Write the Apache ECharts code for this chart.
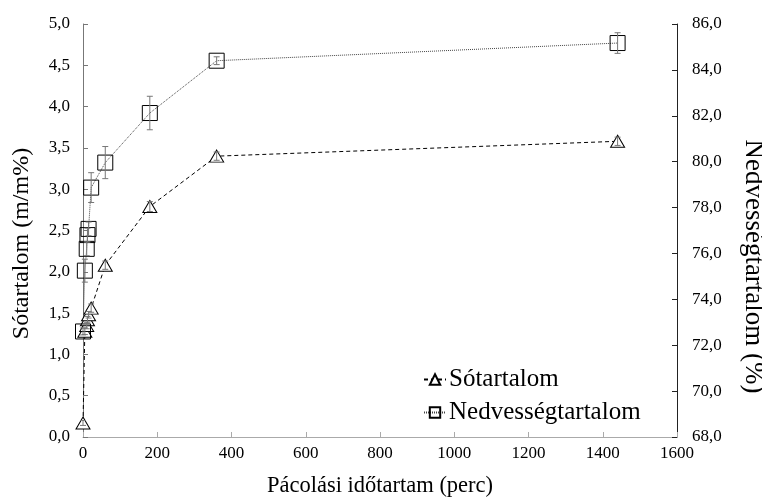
<!DOCTYPE html>
<html>
<head>
<meta charset="utf-8">
<script src="https://cdn.jsdelivr.net/npm/echarts@6/dist/echarts.min.js"></script>
<style>
  html, body { margin: 0; padding: 0; background: #fff; }
  #main { width: 762px; height: 498px; }
</style>
</head>
<body>
<div id="main"></div>
<script>
"use strict";

// pacolasi idotartam (perc)
var times = [0, 5, 10, 12, 15, 22, 60, 180, 360, 1440];
// Sotartalom (m/m%) - bal tengely
var salt = [0.17, 1.28, 1.35, 1.42, 1.48, 1.56, 2.08, 2.79, 3.40, 3.58];
var saltErr = [0.03, 0.04, 0.04, 0.04, 0.04, 0.05, 0.05, 0.06, 0.05, 0.05];
// Nedvessegtartalom (%) - jobb tengely
var moist = [72.6, 75.25, 76.2, 76.8, 77.07, 78.87, 79.96, 82.12, 84.4, 85.17];
var moistErr = [0.15, 0.5, 0.3, 0.3, 0.3, 0.65, 0.7, 0.73, 0.17, 0.45];

var xTicks = [0, 1600, 200];
var leftTicks = [0, 5, 0.5];
var rightTicks = [68, 86, 2];

var FONT = "Liberation Serif";

function pairs(xs, ys) {
    return xs.map(function (x, i) { return [x, ys[i]]; });
}
function errData(xs, ys, es) {
    return xs.map(function (x, i) { return [x, ys[i] - es[i], ys[i] + es[i]]; });
}
function errRender(params, api) {
    var lo = api.coord([api.value(0), api.value(1)]);
    var hi = api.coord([api.value(0), api.value(2)]);
    var cap = 3;
    return {
        type: 'group',
        children: [
            { type: 'line', shape: { x1: lo[0], y1: lo[1], x2: hi[0], y2: hi[1] }, style: { stroke: '#777', lineWidth: 1 } },
            { type: 'line', shape: { x1: lo[0] - cap, y1: lo[1], x2: lo[0] + cap, y2: lo[1] }, style: { stroke: '#777', lineWidth: 1 } },
            { type: 'line', shape: { x1: hi[0] - cap, y1: hi[1], x2: hi[0] + cap, y2: hi[1] }, style: { stroke: '#777', lineWidth: 1 } }
        ]
    };
}
function comma(v) { return v.toFixed(1).replace('.', ','); }

var myChart = echarts.init(document.getElementById('main'));

var option = {
    animation: false,
    textStyle: { fontFamily: FONT },
    grid: { left: 83, right: 85, top: 24, bottom: 61, outerBoundsMode: 'none' },
    legend: {
        orient: 'vertical',
        left: 418,
        top: 362,
        itemGap: 8,
        itemWidth: 22,
        itemHeight: 13,
        textStyle: { fontFamily: FONT, fontSize: 25, color: '#000', padding: [0, 0, 0, -2] },
        data: ['Sótartalom', 'Nedvességtartalom']
    },
    xAxis: {
        type: 'value',
        min: xTicks[0], max: xTicks[1], interval: xTicks[2],
        name: 'Pácolási időtartam (perc)',
        nameLocation: 'middle',
        nameGap: 38,
        nameTextStyle: { fontFamily: FONT, fontSize: 22.5, color: '#000' },
        axisLine: { lineStyle: { color: '#aaa' } },
        axisTick: { inside: true, length: 5, lineStyle: { color: '#aaa' } },
        axisLabel: {
            fontFamily: FONT, fontSize: 17, color: '#000', margin: 8,
            formatter: function (v) { return String(v); }
        },
        splitLine: { show: false }
    },
    yAxis: [{
        type: 'value',
        min: leftTicks[0], max: leftTicks[1], interval: leftTicks[2],
        name: 'Sótartalom (m/m%)',
        nameLocation: 'middle',
        nameGap: 49,
        nameTextStyle: { fontFamily: FONT, fontSize: 24, color: '#000', padding: [0, 26, 0, 0] },
        axisLine: { show: true, lineStyle: { color: '#777' } },
        axisTick: { show: true, inside: true, length: 5, lineStyle: { color: '#777' } },
        axisLabel: { fontFamily: FONT, fontSize: 17, color: '#000', margin: 13, formatter: comma },
        splitLine: { show: false }
    }, {
        type: 'value',
        position: 'right',
        min: rightTicks[0], max: rightTicks[1], interval: rightTicks[2],
        name: 'Nedvességtartalom (%)',
        nameLocation: 'middle',
        nameRotate: -90,
        nameGap: 63,
        nameTextStyle: { fontFamily: FONT, fontSize: 27, color: '#000', padding: [0, 0, 0, 72] },
        axisLine: { show: true, lineStyle: { color: '#222' } },
        axisTick: { show: true, inside: true, length: 5, lineStyle: { color: '#222' } },
        axisLabel: { fontFamily: FONT, fontSize: 17, color: '#000', margin: 15, formatter: comma },
        splitLine: { show: false }
    }],
    series: [{
        name: 'Sótartalom',
        type: 'line',
        yAxisIndex: 0,
        data: pairs(times, salt),
        symbol: 'triangle',
        symbolSize: [14, 12],
        showAllSymbol: true,
        lineStyle: { color: '#000', width: 1, type: [4, 3] },
        itemStyle: { color: '#fff', borderColor: '#000', borderWidth: 1 },
        z: 3
    }, {
        name: 'Nedvességtartalom',
        type: 'line',
        yAxisIndex: 1,
        data: pairs(times, moist),
        symbol: 'rect',
        symbolSize: 15,
        showAllSymbol: true,
        lineStyle: { color: '#444', width: 1, type: [1, 1] },
        itemStyle: { color: 'rgba(255,255,255,0)', borderColor: '#000', borderWidth: 1 },
        z: 3
    }, {
        type: 'custom',
        yAxisIndex: 0,
        data: errData(times, salt, saltErr),
        renderItem: errRender,
        z: 4
    }, {
        type: 'custom',
        yAxisIndex: 1,
        data: errData(times, moist, moistErr),
        renderItem: errRender,
        z: 4
    }]
};

myChart.setOption(option);
window.myChart = myChart;
</script>
</body>
</html>
